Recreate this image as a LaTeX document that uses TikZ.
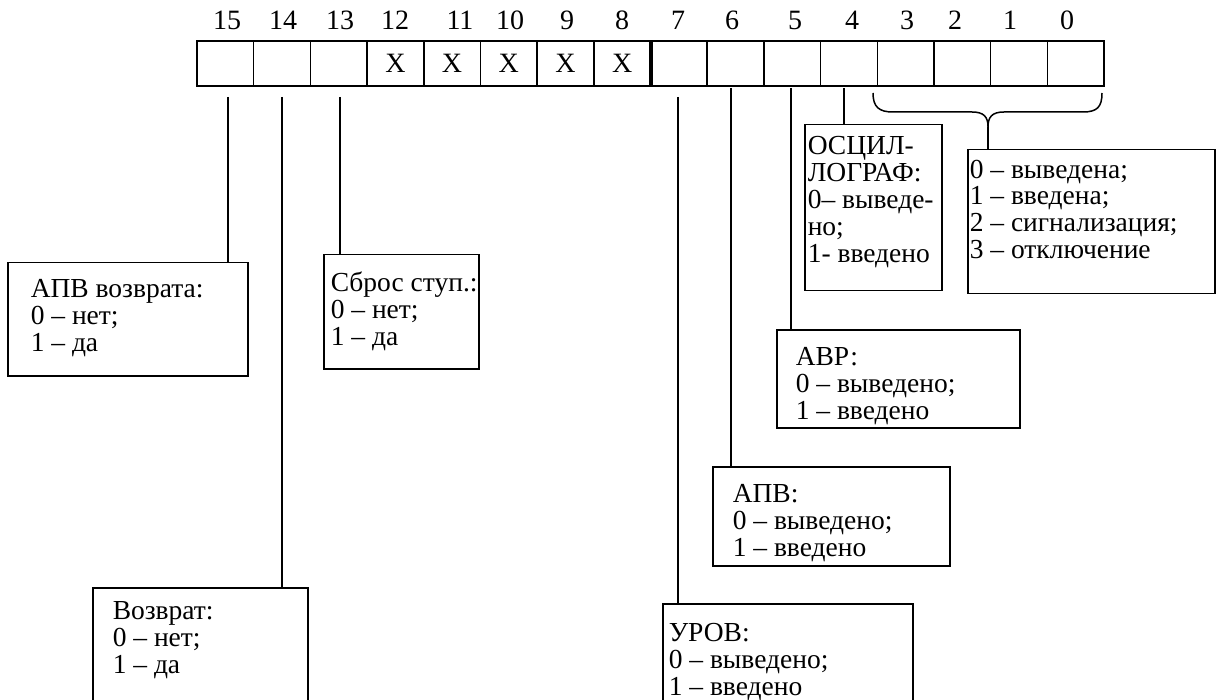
\documentclass[tikz,border=0pt]{standalone}
\usepackage{fontspec}
\setmainfont{Liberation Serif}
\begin{document}
\begin{tikzpicture}[x=1pt,y=-1pt,
  line width=1.5pt,
  cell/.style={draw, minimum width=56.69pt, minimum height=45pt, inner sep=0pt},
  num/.style={inner sep=0pt, font=\fontsize{28}{28}\selectfont},
  box/.style={draw, anchor=north west, inner sep=0pt},
  txt/.style={anchor=north west, inner sep=0pt, align=left, font=\fontsize{27.5}{26.8}\selectfont}]
\path[use as bounding box, clip] (0,0) rectangle (1217,700);
% register cells
\foreach \b in {0,...,15}{
  \node[cell] (c\b) at ({197+(15.5-\b)*56.6875},63.5) {};
}
\foreach \b in {8,...,12}{
  \node[num] (x\b) at (c\b) {X};
}
\draw[line width=4pt] (c8.north east) -- (c8.south east);
% bit numbers
\foreach \b/\x in {15/227,14/283,13/340,12/395,11/460,10/510,9/567,8/622,7/678,6/732,5/795,4/852,3/907,2/955,1/1010,0/1067}{
  \node[num] (n\b) at (\x,20) {\b};
}
% boxes
\node[box, minimum width=240pt, minimum height=113pt] (bapvv) at (7,262) {};
\node[txt] (tapvv) at (30,279) {АПВ возврата:\\0 – нет;\\1 – да};
\node[box, minimum width=155pt, minimum height=114pt] (bsbros) at (323,254) {};
\node[txt] (tsbros) at (330,271) {Сброс ступ.:\\0 – нет;\\1 – да};
\node[box, minimum width=215pt, minimum height=130pt] (bvozv) at (92,587) {};
\node[txt] (tvozv) at (112,601) {Возврат:\\0 – нет;\\1 – да};
\node[box, minimum width=250pt, minimum height=110pt] (burov) at (662,603) {};
\node[txt] (turov) at (668,623) {УРОВ:\\0 – выведено;\\1 – введено};
\node[box, minimum width=237pt, minimum height=99pt] (bapv) at (712,466) {};
\node[txt] (tapv) at (732,484) {АПВ:\\0 – выведено;\\1 – введено};
\node[box, minimum width=243pt, minimum height=98pt] (bavr) at (776,329) {};
\node[txt] (tavr) at (795,347) {АВР:\\0 – выведено;\\1 – введено};
\node[box, minimum width=137pt, minimum height=166pt] (bosc) at (804,124) {};
\node[txt] (tosc) at (807,136) {ОСЦИЛ-\\ЛОГРАФ:\\0– выведе-\\но;\\1- введено};
\node[box, minimum width=247pt, minimum height=144pt] (bmode) at (967,149) {};
\node[txt] (tmode) at (969,159) {0 – выведена;\\1 – введена;\\2 – сигнализация;\\3 – отключение};
% connectors
\coordinate (s15) at (228,97);
\coordinate (s14) at (282,97);
\coordinate (s13) at (340,97);
\coordinate (s7) at (678,97);
\coordinate (s6) at (731,88);
\coordinate (s5) at (791,88);
\coordinate (s4) at (844,88);
\draw (s15) -- (s15 |- bapvv.north);
\draw (s14) -- (s14 |- bvozv.north);
\draw (s13) -- (s13 |- bsbros.north);
\draw (s7) -- (s7 |- burov.north);
\draw (s6) -- (s6 |- bapv.north);
\draw (s5) -- (s5 |- bavr.north);
\draw (s4) -- (s4 |- bosc.north);
% brace
\coordinate (btip) at (988,127);
\draw (873,93) .. controls (873,107) and (879,112) .. (893,112) -- (972,112)
      .. controls (984,112) and (988,117) .. (btip)
      .. controls (988,117) and (992,112) .. (1004,112) -- (1083,112)
      .. controls (1097,112) and (1102,107) .. (1102,93);
\draw (btip) -- (btip |- bmode.north);
\end{tikzpicture}
\end{document}
